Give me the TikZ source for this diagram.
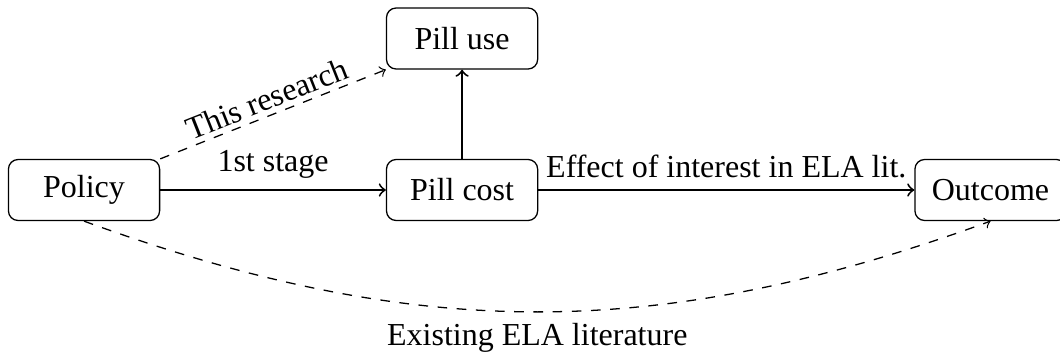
\documentclass[tikz,border=0pt]{standalone}
\usepackage{fontspec}
\setmainfont{Liberation Serif}
\begin{document}
\begin{tikzpicture}[
  box/.style={draw, thin, rounded corners=3pt, minimum width=1.66cm, minimum height=0.67cm},
  link/.style={->, semithick},
  litlink/.style={->, dashed, thin}
]
\useasboundingbox (-0.923,-1.823) rectangle (10.719,2.087);
% Draw boxes
\node[box] (policy) at (0,0) {Policy};
\node[box] (pillcost) at (4.152,0) {Pill cost};
\node[box] (pilluse) at (4.152,1.664) {Pill use};
\node[box] (outcome) at (9.956,0) {Outcome};
% Draw causal chain
\draw[link] (policy) -- node[above] {1st stage} (pillcost);
\draw[link] (pillcost) -- (pilluse);
\draw[link] (pillcost) -- node[above] {Effect of interest in ELA lit.} (outcome);
% Draw reduced form links
\draw[litlink] (policy.north east) -- node[midway, above, sloped, inner sep=1.5pt] {This research} (pilluse.south west);
\draw[litlink] (policy.south) to[bend right=20] node[midway, below] {Existing ELA literature} (outcome.south);
\end{tikzpicture}
\end{document}
